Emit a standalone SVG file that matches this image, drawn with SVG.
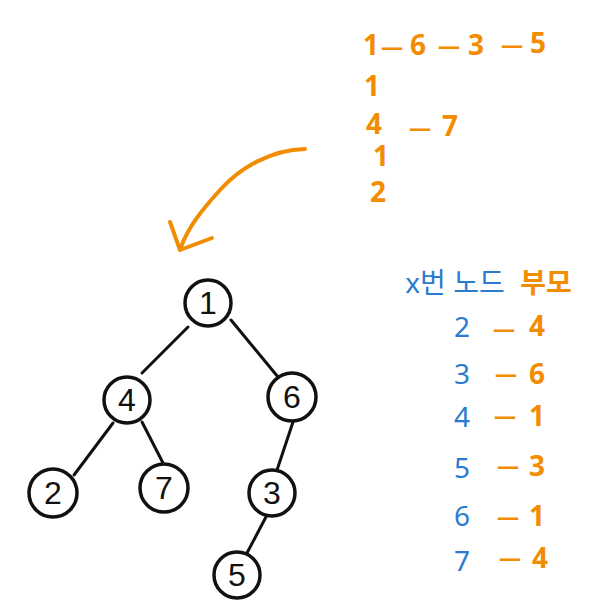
<svg xmlns="http://www.w3.org/2000/svg" width="600" height="615" viewBox="0 0 600 615">
<style>
.node circle{fill:#fff;stroke:#111;stroke-width:3.5}
.node text{font-family:"Liberation Sans","Noto Sans CJK KR",sans-serif;font-size:32px;fill:#111;text-anchor:middle;dominant-baseline:central}
.edges line{stroke:#111;stroke-width:3;stroke-linecap:round}
.or{font-family:"Noto Sans","Noto Sans CJK KR",sans-serif;font-weight:bold;fill:#F28C00;font-size:28px;text-anchor:middle;dominant-baseline:central}
.dash{font-family:"Noto Sans","Noto Sans CJK KR",sans-serif;font-weight:bold;fill:#F28C00;font-size:22px;text-anchor:middle;dominant-baseline:central}
.bl{font-family:"Noto Sans","Noto Sans CJK KR",sans-serif;fill:#2B7BD0;font-size:28px;text-anchor:middle;dominant-baseline:central}
.arrow{fill:none;stroke:#F28C00;stroke-width:4;stroke-linecap:round;stroke-linejoin:round}
</style>
<rect width="600" height="615" fill="#fff"/>
<g class="edges">
<line x1="188" y1="327" x2="142" y2="373"/>
<line x1="231" y1="320" x2="278" y2="377"/>
<line x1="113" y1="423" x2="74" y2="475"/>
<line x1="142" y1="422" x2="163" y2="463"/>
<line x1="293" y1="422" x2="277" y2="470"/>
<line x1="267" y1="515" x2="247" y2="553"/>
</g>
<g id="n1" class="node"><circle cx="208" cy="303" r="23"/><text x="208" y="303">1</text></g>
<g id="n4" class="node"><circle cx="127" cy="400" r="23"/><text x="127" y="400">4</text></g>
<g id="n6" class="node"><circle cx="292" cy="397" r="24"/><text x="292" y="397">6</text></g>
<g id="n2" class="node"><circle cx="53" cy="493" r="24"/><text x="53" y="493">2</text></g>
<g id="n7" class="node"><circle cx="164" cy="488" r="24"/><text x="164" y="488">7</text></g>
<g id="n3" class="node"><circle cx="272" cy="493" r="23"/><text x="272" y="493">3</text></g>
<g id="n5" class="node"><circle cx="237" cy="575" r="23"/><text x="237" y="575">5</text></g>
<g id="arrow">
<path class="arrow" d="M305,149 C270,150 240,168 220,190 C200,212 188,228 181,247"/>
<path class="arrow" d="M170,222 L180,250 L212,238"/>
</g>
<g id="paths">
<text class="or" x="371" y="44">1</text>
<text class="dash" x="392" y="46">—</text>
<text class="or" x="418" y="44">6</text>
<text class="dash" x="449" y="45">—</text>
<text class="or" x="476" y="44">3</text>
<text class="dash" x="512" y="44">—</text>
<text class="or" x="538" y="42">5</text>
<text class="or" x="372" y="85" font-size="24">1</text>
<text class="or" x="374" y="123">4</text>
<text class="dash" x="420" y="127">—</text>
<text class="or" x="450" y="125">7</text>
<text class="or" x="381" y="155" font-size="14">1</text>
<text class="or" x="378" y="191" font-size="26">2</text>
</g>
<g id="table">
<text class="bl" x="455" y="282" font-size="21">x번 노드</text>
<text class="or" x="546" y="282" font-size="24">부모</text>
<text class="bl" x="462" y="326">2</text><text class="dash" x="504" y="328">—</text><text class="or" x="537" y="325">4</text>
<text class="bl" x="462" y="373">3</text><text class="dash" x="506" y="373">—</text><text class="or" x="537" y="373">6</text>
<text class="bl" x="462" y="416">4</text><text class="dash" x="505" y="415">—</text><text class="or" x="537" y="415">1</text>
<text class="bl" x="462" y="467">5</text><text class="dash" x="508" y="465">—</text><text class="or" x="537" y="465">3</text>
<text class="bl" x="462" y="515">6</text><text class="dash" x="508" y="516">—</text><text class="or" x="537" y="515">1</text>
<text class="bl" x="462" y="560">7</text><text class="dash" x="510" y="557">—</text><text class="or" x="540" y="557">4</text>
</g>
</svg>
